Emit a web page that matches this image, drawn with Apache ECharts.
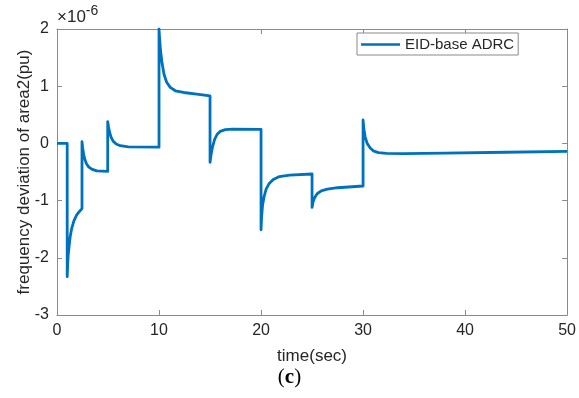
<!DOCTYPE html>
<html>
<head>
<meta charset="utf-8">
<script src="https://cdn.jsdelivr.net/npm/echarts@6/dist/echarts.min.js"></script>
<style>
html,body{margin:0;padding:0;background:#fff;}
#c{width:579px;height:398px;}
</style>
</head>
<body>
<div id="c"></div>
<script>
// time (sec)
var timeSec = [
  0, 1.0,
  1.0, 1.05, 1.1, 1.2, 1.3, 1.45, 1.65, 1.9, 2.2, 2.45,
  2.45, 2.52, 2.62, 2.75, 2.9, 3.1, 3.4, 3.9, 4.97,
  4.97, 5.05, 5.15, 5.3, 5.5, 5.8, 6.2, 7.0, 10.0,
  10.0, 10.05, 10.15, 10.3, 10.5, 10.75, 11.1, 11.6, 12.4, 13.7, 15.0,
  15.0, 15.1, 15.25, 15.45, 15.7, 16.0, 16.5, 17.2, 20.0,
  20.0, 20.05, 20.15, 20.3, 20.5, 20.8, 21.2, 21.8, 22.8, 25.0,
  25.0, 25.1, 25.25, 25.5, 25.9, 26.5, 27.5, 30.0,
  30.0, 30.08, 30.2, 30.4, 30.7, 31.0, 31.5, 32.3, 34.0, 38.0, 44.0, 50.0
];
// frequency deviation of area2 (in units of 1e-6 pu)
var freqDevE6 = [
  0, 0,
  -2.33, -2.1, -1.95, -1.78, -1.62, -1.48, -1.36, -1.26, -1.19, -1.14,
  0.03, -0.08, -0.2, -0.29, -0.36, -0.41, -0.45, -0.48, -0.49,
  0.38, 0.29, 0.2, 0.11, 0.04, -0.01, -0.04, -0.06, -0.065,
  2.0, 1.85, 1.62, 1.4, 1.2, 1.07, 0.98, 0.92, 0.89, 0.86, 0.83,
  -0.33, -0.2, -0.06, 0.07, 0.16, 0.21, 0.24, 0.25, 0.245,
  -1.51, -1.3, -1.08, -0.93, -0.8, -0.7, -0.63, -0.58, -0.555, -0.535,
  -1.12, -1.02, -0.95, -0.88, -0.83, -0.8, -0.775, -0.745,
  0.41, 0.25, 0.12, 0.0, -0.08, -0.13, -0.16, -0.175, -0.18, -0.17, -0.155, -0.14
];
var seriesName = 'EID-base ADRC';
var xLabel = 'time(sec)';
var yLabel = 'frequency deviation of area2(pu)';
var yTicks = [-3, -2, -1, 0, 1, 2];
var xTicks = [0, 10, 20, 30, 40, 50];

var pts = timeSec.map(function (t, i) { return [t, freqDevE6[i]]; });

var FONT = 'Liberation Sans, Arial, sans-serif';
var AX = '#8a8a8a';
var TXT = '#262626';

function axisCommon(pos, showLabel) {
  return {
    type: 'value',
    position: pos,
    axisLine: { show: true, onZero: false, lineStyle: { color: AX, width: 1 } },
    axisTick: { show: true, inside: true, length: 5, lineStyle: { color: AX } },
    axisLabel: { show: showLabel, color: TXT, fontFamily: FONT, fontSize: 16 },
    splitLine: { show: false }
  };
}

var xMain = axisCommon('bottom', true);
xMain.min = xTicks[0]; xMain.max = xTicks[xTicks.length - 1]; xMain.interval = 10;
xMain.axisLabel.margin = 8;
xMain.name = xLabel; xMain.nameLocation = 'middle'; xMain.nameGap = 33;
xMain.nameTextStyle = { color: TXT, fontFamily: FONT, fontSize: 17 };
var xTop = axisCommon('top', false);
xTop.min = xMain.min; xTop.max = xMain.max; xTop.interval = 10;

var yMain = axisCommon('left', true);
yMain.min = yTicks[0]; yMain.max = yTicks[yTicks.length - 1]; yMain.interval = 1;
yMain.axisLabel.margin = 8;
yMain.axisLabel.formatter = function (v) { return String(v); };
var yRight = axisCommon('right', false);
yRight.min = yMain.min; yRight.max = yMain.max; yRight.interval = 1;

var chart = echarts.init(document.getElementById('c'), null, { renderer: 'canvas' });
chart.setOption({
  animation: false,
  backgroundColor: '#ffffff',
  grid: { left: 57, right: 11, top: 29, bottom: 83, containLabel: false },
  xAxis: [xMain, xTop],
  yAxis: [yMain, yRight],
  legend: {
    left: 357, top: 33,
    padding: [4, 4, 3, 4],
    borderColor: '#8a8a8a', borderWidth: 1, backgroundColor: '#ffffff',
    itemWidth: 39, itemHeight: 14,
    textStyle: { color: TXT, fontFamily: FONT, fontSize: 15 },
    data: [{ name: seriesName, icon: 'path://M0,6 L39,6 L39,8.6 L0,8.6 Z' }]
  },
  series: [{
    name: seriesName,
    type: 'line',
    xAxisIndex: 0, yAxisIndex: 0,
    data: pts,
    symbol: 'none',
    lineStyle: { color: '#0072BD', width: 2.8, join: 'round' },
    itemStyle: { color: '#0072BD' },
    clip: true
  }],
  graphic: [
    {
      type: 'text', x: 24, y: 172, rotation: Math.PI / 2,
      style: {
        text: yLabel, align: 'center', verticalAlign: 'middle',
        fontFamily: FONT, fontSize: 17, fill: TXT
      }
    },
    {
      type: 'text', left: 57, top: 4,
      style: {
        text: '{b|×10}{s|-6}',
        rich: {
          b: { fontFamily: FONT, fontSize: 17, fill: TXT, verticalAlign: 'bottom', lineHeight: 22 },
          s: { fontFamily: FONT, fontSize: 14, fill: TXT, verticalAlign: 'top', lineHeight: 16 }
        }
      }
    },
    {
      type: 'text', left: 'center', top: 367,
      style: {
        text: '{p|(}{c|c}{p|)}',
        rich: {
          p: { fontFamily: 'Liberation Serif, serif', fontSize: 21, fill: '#000' },
          c: { fontFamily: 'Liberation Serif, serif', fontSize: 21, fontWeight: 'bold', fill: '#000' }
        }
      }
    }
  ]
});
</script>
</body>
</html>
